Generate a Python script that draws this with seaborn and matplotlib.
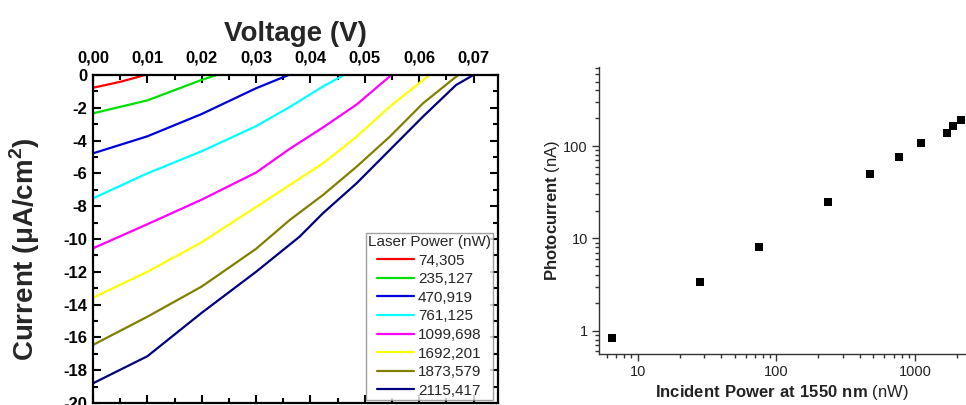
import pandas as pd
import numpy as np
from matplotlib import pyplot as plt
from matplotlib.ticker import FuncFormatter, MultipleLocator, LogLocator, NullFormatter
import seaborn as sns

# I-V curves, one per laser power (nW)
powers = ["74,305", "235,127", "470,919", "761,125", "1099,698", "1692,201", "1873,579", "2115,417"]
colors = ["#ff0000", "#00e000", "#0000dd", "#00ffff", "#ff00ff", "#ffff00", "#808000", "#000080"]

v_74 = [0, 0.005, 0.0096]
i_74 = [-0.78, -0.42, 0]
v_235 = [0, 0.01, 0.02, 0.0228]
i_235 = [-2.34, -1.55, -0.3, 0]
v_471 = [0, 0.01, 0.02, 0.03, 0.0360]
i_471 = [-4.78, -3.74, -2.38, -0.81, 0]
v_761 = [0, 0.01, 0.02, 0.03, 0.0362, 0.0423, 0.0462]
i_761 = [-7.52, -6.0, -4.65, -3.12, -1.95, -0.7, 0]
v_1100 = [0, 0.01, 0.02, 0.03, 0.0362, 0.0423, 0.0485, 0.0549]
i_1100 = [-10.57, -9.1, -7.6, -5.95, -4.5, -3.2, -1.8, 0]
v_1692 = [0, 0.01, 0.02, 0.03, 0.0362, 0.0423, 0.0485, 0.0546, 0.0619]
i_1692 = [-13.58, -12.0, -10.2, -8.05, -6.71, -5.39, -3.76, -1.93, 0]
v_1874 = [0, 0.01, 0.02, 0.03, 0.0362, 0.0423, 0.0485, 0.0546, 0.0607, 0.0672]
i_1874 = [-16.46, -14.74, -12.9, -10.6, -8.84, -7.32, -5.59, -3.76, -1.73, 0]
v_2115 = [0, 0.01, 0.02, 0.03, 0.038, 0.0423, 0.0485, 0.0546, 0.0607, 0.0668, 0.0700]
i_2115 = [-18.8, -17.15, -14.5, -12.0, -9.86, -8.43, -6.6, -4.57, -2.54, -0.61, 0]

# photocurrent vs incident power
inc_power = [6.53, 28.1, 74.3, 236.7, 474, 767, 1110, 1707, 1884, 2128]
photocurrent = [0.84, 3.37, 8.01, 24.6, 49.5, 76.8, 107, 137.5, 166, 192]

curves = [(v_74, i_74), (v_235, i_235), (v_471, i_471), (v_761, i_761),
          (v_1100, i_1100), (v_1692, i_1692), (v_1874, i_1874), (v_2115, i_2115)]
rows = []
for p, (vs, cs) in zip(powers, curves):
    for v, c in zip(vs, cs):
        rows.append({"power": p, "V": v, "I": c})
iv_df = pd.DataFrame(rows)
pc_df = pd.DataFrame({"P": inc_power, "Ipc": photocurrent})

sns.set_style("ticks")
plt.rcParams["font.family"] = ["Liberation Sans", "DejaVu Sans"]
plt.rcParams["axes.unicode_minus"] = False
plt.rcParams["mathtext.fontset"] = "custom"
plt.rcParams["mathtext.rm"] = "Liberation Sans"
plt.rcParams["mathtext.bf"] = "Liberation Sans:bold"

fig = plt.figure(figsize=(9.66, 4.05), dpi=100)
ax1 = fig.add_axes([0.0963, 0.005, 0.4192, 0.8099])
ax2 = fig.add_axes([0.620, 0.1259, 0.379, 0.7087])

# left panel
sns.lineplot(data=iv_df, x="V", y="I", hue="power", hue_order=powers,
             palette=dict(zip(powers, colors)), sort=False, estimator=None,
             linewidth=1.6, ax=ax1)
ax1.set_xlim(0, 0.0745)
ax1.set_ylim(-20, 0)
ax1.xaxis.set_major_locator(MultipleLocator(0.01))
ax1.xaxis.set_minor_locator(MultipleLocator(0.005))
ax1.yaxis.set_major_locator(MultipleLocator(2))
ax1.yaxis.set_minor_locator(MultipleLocator(1))
ax1.xaxis.set_major_formatter(FuncFormatter(lambda x, _: f"{x:.2f}".replace(".", ",")))
ax1.yaxis.set_major_formatter(FuncFormatter(lambda y, _: f"{y:.0f}"))
ax1.tick_params(which="both", direction="in", top=True, bottom=True, left=True, right=True,
                labeltop=True, labelbottom=False, width=1.5, colors="black")
ax1.tick_params(which="major", length=6, labelsize=12)
ax1.tick_params(which="minor", length=3.5)
ax1.tick_params(axis="x", which="major", pad=7)
ax1.tick_params(axis="y", which="major", pad=4)
for lab in ax1.get_xticklabels() + ax1.get_yticklabels():
    lab.set_fontweight("bold")
for s in ax1.spines.values():
    s.set_linewidth(1.6)
    s.set_color("black")
ax1.xaxis.set_label_position("top")
ax1.set_xlabel("Voltage (V)", fontsize=20, fontweight="bold", labelpad=7)
ax1.set_ylabel("Current (μA/cm$^\\mathbf{2}$)", fontsize=20, fontweight="bold")
ax1.yaxis.set_label_coords(-0.125, 0.47)
handles, labels = ax1.get_legend_handles_labels()
leg = ax1.legend(handles, labels, title="Laser Power (nW)", loc="lower right",
                 bbox_to_anchor=(0.988, 0.009), borderaxespad=0, fontsize=11,
                 title_fontsize=11, labelspacing=0.3, handlelength=2.4,
                 handletextpad=0.25, borderpad=0.15, frameon=True, fancybox=False)
leg.get_frame().set_edgecolor("#888888")
leg.get_frame().set_linewidth(1.0)

# right panel
sns.scatterplot(data=pc_df, x="P", y="Ipc", marker="s", s=30, color="black",
                edgecolor="black", linewidth=0, ax=ax2)
ax2.set_xscale("log")
ax2.set_yscale("log")
ax2.set_xlim(5.24, 2290)
ax2.set_ylim(0.559, 719)
ax2.xaxis.set_major_locator(LogLocator(base=10))
ax2.yaxis.set_major_locator(LogLocator(base=10))
ax2.xaxis.set_minor_locator(LogLocator(base=10, subs=np.arange(2, 10)))
ax2.yaxis.set_minor_locator(LogLocator(base=10, subs=np.arange(2, 10)))
ax2.xaxis.set_minor_formatter(NullFormatter())
ax2.yaxis.set_minor_formatter(NullFormatter())
ax2.xaxis.set_major_formatter(FuncFormatter(lambda x, _: f"{x:g}"))
ax2.yaxis.set_major_formatter(FuncFormatter(lambda y, _: f"{y:g}"))
ax2.tick_params(which="both", direction="out", colors="#333333", width=1.0)
ax2.tick_params(which="major", length=5, labelsize=10.5, labelcolor="#222222", pad=3)
ax2.tick_params(which="minor", length=3)
sns.despine(ax=ax2)
for s in ["left", "bottom"]:
    ax2.spines[s].set_color("#333333")
    ax2.spines[s].set_linewidth(1.0)
ax2.set_xlabel(r"$\mathbf{Incident\ Power\ at\ 1550\ nm}$ (nW)", fontsize=12,
               color="#222222", labelpad=3)
ax2.set_ylabel(r"$\mathbf{Photocurrent}$ (nA)", fontsize=12, color="#222222", labelpad=1)

fig.savefig("out.png", dpi=100)
